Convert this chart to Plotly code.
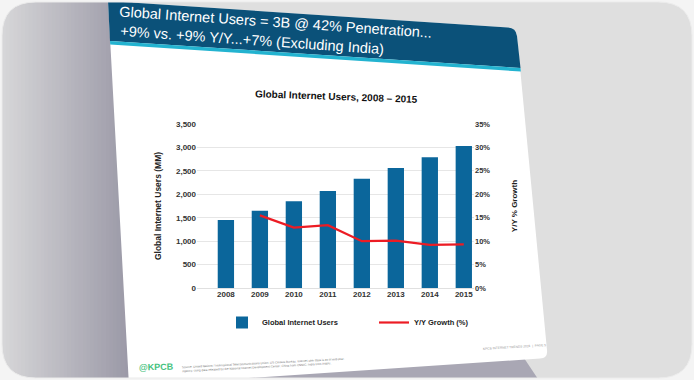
import plotly.graph_objects as go

# ---------------- data ----------------
years = ["2008", "2009", "2010", "2011", "2012", "2013", "2014", "2015"]
users_mm = [1450, 1650, 1850, 2070, 2330, 2560, 2790, 3030]
growth_years = ["2009", "2010", "2011", "2012", "2013", "2014", "2015"]
growth_pct = [15.5, 12.9, 13.4, 10.0, 10.1, 9.2, 9.3]
user_ticks = [0, 500, 1000, 1500, 2000, 2500, 3000, 3500]
growth_ticks = [0, 5, 10, 15, 20, 25, 30, 35]
growth_tick_labels = ["0%", "5%", "10%", "15%", "20%", "25%", "30%", "35%"]

header_line1 = "Global Internet Users = 3B @ 42% Penetration..."
header_line2 = "+9% vs. +9% Y/Y...+7% (Excluding India)"
chart_title = "Global Internet Users, 2008 \u2013 2015"

W, H = 694, 380
FONT = "Liberation Sans, Arial, Helvetica, sans-serif"


def px(x, y):
    return f"{x / W:.5f},{1 - y / H:.5f}"


def path(cmds):
    out = []
    for c in cmds:
        if isinstance(c, str):
            out.append(c)
        else:
            out.append(px(*c))
    return " ".join(out)


def rounded_rect(x0, y0, x1, y1, r):
    return path([
        "M", (x0 + r, y0), "L", (x1 - r, y0), "Q", (x1, y0), (x1, y0 + r),
        "L", (x1, y1 - r), "Q", (x1, y1), (x1 - r, y1),
        "L", (x0 + r, y1), "Q", (x0, y1), (x0, y1 - r),
        "L", (x0, y0 + r), "Q", (x0, y0), (x0 + r, y0), "Z",
    ])


def lerp_col(c0, c1, t):
    a = [int(c0[i:i + 2], 16) for i in (1, 3, 5)]
    b = [int(c1[i:i + 2], 16) for i in (1, 3, 5)]
    return "#" + "".join(f"{round(a[i] + (b[i] - a[i]) * t):02x}" for i in range(3))


def pshape(p, fill, **kw):
    d = dict(type="path", xref="paper", yref="paper", path=p, fillcolor=fill,
             line=dict(width=0), layer="below")
    d.update(kw)
    return d


shapes = []
# photo backdrop
shapes.append(pshape(rounded_rect(2, 2, 692, 378, 34), "#dfdfdf"))
# left gradient shading
n = 34
x0, x1 = 2, 132
for i in range(n):
    xa = x0 + (x1 - x0) * i / n
    xb = x0 + (x1 - x0) * (i + 1) / n + 0.6
    shapes.append(dict(type="rect", xref="paper", yref="paper",
                       x0=xa / W, x1=xb / W, y0=0, y1=1,
                       fillcolor=lerp_col("#d6d6d8", "#9a98a6", i / (n - 1)),
                       line=dict(width=0), layer="below"))
# bottom shadow wedge
shapes.append(pshape(path(["M", (220, 379), "L", (524, 358), "L", (538, 379), "Z"]), "#a9a7b4"))
# slide
shapes.append(pshape(path(["M", (108, 1), "L", (508, 27.5), "Q", (516, 28), (517, 36),
                           "L", (547, 350), "Q", (548, 358), (540, 358.5),
                           "L", (129, 386), "Z"]), "#ffffff"))
# header band
shapes.append(pshape(path(["M", (108, 1), "L", (508, 27.5), "Q", (516, 28), (517, 36),
                           "L", (520.5, 68), "L", (110, 41), "Z"]), "#0b5179"))
shapes.append(pshape(path(["M", (110, 41), "L", (520.5, 68), "L", (520.8, 71.5),
                           "L", (110.2, 44.5), "Z"]), "#23b3d0"))
# frame mask (outside the rounded frame)
mask = path(["M", (-2, -2), "L", (W + 2, -2), "L", (W + 2, H + 2), "L", (-2, H + 2), "Z"]) + " " + \
    rounded_rect(2, 2, 692, 378, 34)
shapes.append(pshape(mask, "#f4f4f4", fillrule="evenodd"))
shapes.append(dict(type="path", xref="paper", yref="paper", path=rounded_rect(2, 2, 692, 378, 34),
                   fillcolor="rgba(0,0,0,0)", line=dict(color="#ebebeb", width=1), layer="below"))

fig = go.Figure()
fig.add_trace(go.Bar(x=years, y=users_mm, name="Global Internet Users",
                     marker=dict(color="#0b669b", line=dict(width=0)), width=0.48))
fig.add_trace(go.Scatter(x=growth_years, y=growth_pct, name="Y/Y Growth (%)", yaxis="y2",
                         mode="lines", line=dict(color="#ec1c24", width=2.2)))

plot_l, plot_r, plot_t, plot_b = 197, 474, 124, 288
xdom = [plot_l / W, plot_r / W]
ydom = [1 - plot_b / H, 1 - plot_t / H]

tickfont = dict(family=FONT, size=8, color="#333333", weight="bold")


def note(text, x, y, size, color, angle=0, xanchor="center", **kw):
    d = dict(text=text, x=x / W, y=1 - y / H, xref="paper", yref="paper", showarrow=False,
             xanchor=xanchor, yanchor="middle", textangle=angle,
             font=dict(family=FONT, size=size, color=color))
    d.update(kw)
    return d


annotations = [
    note(header_line1, 275, 22, 14.5, "#ffffff", 3.9),
    note(header_line2, 252, 40, 14.5, "#ffffff", 4.0),
    note("<b>" + chart_title + "</b>", 336, 96, 10, "#111111", 2.0),
    note("<b>@KPCB</b>", 156, 367, 9, "#45c27e", -1.5),
    note("Source: United Nations / International Telecommunications Union, US Census Bureau. Internet user data is as of mid-year.<br>"
         "Agency, citing data released by the National Internet Development Center; China from CNNIC; India from IAMAI.",
         180, 365, 3, "#777777", -3, xanchor="left", align="left"),
    note("KPCB INTERNET TRENDS 2016  |  PAGE 5", 514, 347, 3.2, "#9a9a9a", -3.5),
]

fig.update_layout(
    template="none",
    width=W, height=H,
    margin=dict(l=0, r=0, t=0, b=0),
    paper_bgcolor="#f4f4f4",
    plot_bgcolor="rgba(0,0,0,0)",
    font=dict(family=FONT, color="#222222"),
    shapes=shapes,
    annotations=annotations,
    showlegend=True,
    legend=dict(orientation="h", x=222 / W, y=1 - 308 / H, xanchor="left", yanchor="top",
                entrywidth=107, entrywidthmode="pixels", bgcolor="rgba(0,0,0,0)",
                font=dict(family=FONT, size=7.5, color="#222222", weight="bold")),
    xaxis=dict(domain=xdom, type="category", range=[-0.85, 7.3], showgrid=False,
               showline=False, zeroline=False, ticks="", tickfont=tickfont, automargin=False,
               anchor="y"),
    yaxis=dict(domain=ydom, range=[0, 3500], tickvals=user_ticks, tickformat=",",
               showgrid=True, gridcolor="#e6e6e6", gridwidth=1, zeroline=True,
               zerolinecolor="#e0e0e0", zerolinewidth=1, showline=False, ticks="",
               tickfont=tickfont, automargin=False,
               title=dict(text="<b>Global Internet Users (MM)</b>", standoff=12,
                          font=dict(family=FONT, size=8.5, color="#222222"))),
    yaxis2=dict(overlaying="y", side="right", range=[0, 35], tickvals=growth_ticks,
                ticktext=growth_tick_labels, showgrid=False, zeroline=False, showline=False,
                ticks="", tickfont=dict(family=FONT, size=7.5, color="#333333", weight="bold"),
                automargin=False,
                title=dict(text="<b>Y/Y % Growth</b>", standoff=22,
                           font=dict(family=FONT, size=8, color="#222222"))),
)

fig.write_html("out.html", config={"displayModeBar": False},
               post_script="document.body.style.margin='0';")
